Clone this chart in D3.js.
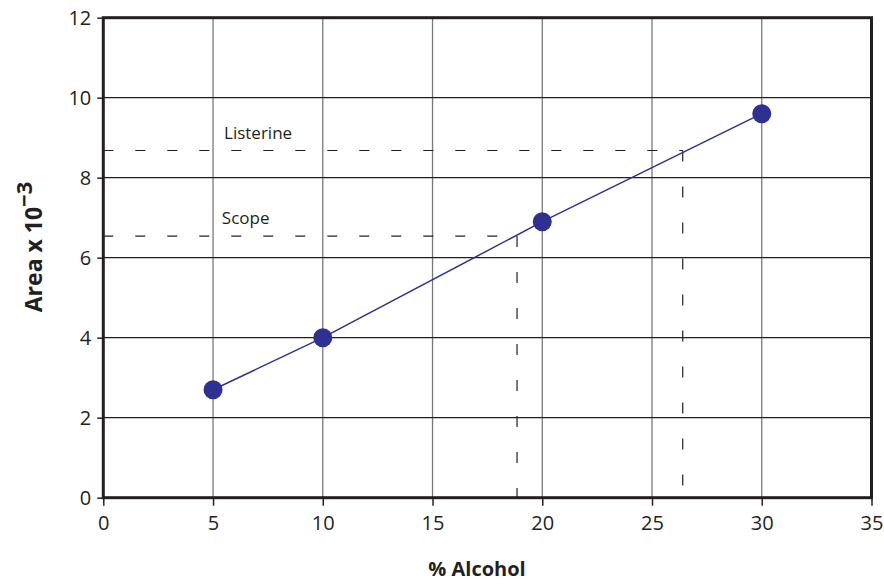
<!DOCTYPE html>
<html><head><meta charset="utf-8">
<script src="https://cdn.jsdelivr.net/npm/d3@7/dist/d3.min.js"></script>
<style>body{margin:0;background:#fff}svg{display:block}</style>
</head><body>
<svg id="c" width="884" height="584"></svg>
<script>
const alcohol = [5, 10, 20, 30];
const area = [2.7, 4.0, 6.9, 9.6];
const xTicks = [0, 5, 10, 15, 20, 25, 30, 35];
const yTicks = [0, 2, 4, 6, 8, 10, 12];
const sampleNames = ["Listerine", "Scope"];
const sampleArea = [8.68, 6.54];
const sampleAlcohol = [26.4, 18.85];

const svg = d3.select("#c");
const font = "'Open Sans', sans-serif";
const x = d3.scaleLinear().domain([0, 35]).range([103.3, 871.5]);
const y = d3.scaleLinear().domain([0, 12]).range([497.7, 17.7]);
const dark = "#231f20";

// vertical grid
svg.append("g").selectAll("line").data(xTicks.slice(1, -1)).join("line")
  .attr("x1", d => x(d)).attr("x2", d => x(d)).attr("y1", y(12)).attr("y2", y(0))
  .attr("stroke", "#7a7a7a").attr("stroke-width", 1.3);
// horizontal grid
svg.append("g").selectAll("line").data(yTicks.slice(1, -1)).join("line")
  .attr("x1", x(0)).attr("x2", x(35)).attr("y1", d => y(d)).attr("y2", d => y(d))
  .attr("stroke", dark).attr("stroke-width", 1.2);

// dashed sample lines
const dash = svg.append("g").attr("stroke", dark).attr("stroke-width", 1.2).attr("fill", "none");
sampleNames.forEach((n, i) => {
  dash.append("line").attr("x1", x(0)).attr("x2", x(sampleAlcohol[i]))
    .attr("y1", y(sampleArea[i])).attr("y2", y(sampleArea[i])).attr("stroke-dasharray", "10,22");
  dash.append("line").attr("x1", x(sampleAlcohol[i])).attr("x2", x(sampleAlcohol[i]))
    .attr("y1", y(sampleArea[i])).attr("y2", y(0)).attr("stroke-dasharray", "11,25");
});
svg.append("g").selectAll("text").data(sampleNames).join("text")
  .attr("x", (d, i) => x(i === 0 ? 5.5 : 5.4)).attr("y", (d, i) => y(sampleArea[i]) - 12)
  .attr("font-family", font).attr("font-size", 17).attr("fill", dark).text(d => d);

// frame
svg.append("rect").attr("x", x(0)).attr("y", y(12)).attr("width", x(35) - x(0)).attr("height", y(0) - y(12))
  .attr("fill", "none").attr("stroke", dark).attr("stroke-width", 3);

// axes
const xAxis = svg.append("g").attr("transform", `translate(0,${y(0)})`)
  .call(d3.axisBottom(x).tickValues(xTicks).tickSize(8).tickPadding(10));
const yAxis = svg.append("g").attr("transform", `translate(${x(0)},0)`)
  .call(d3.axisLeft(y).tickValues(yTicks).tickSize(6).tickPadding(6));
[xAxis, yAxis].forEach(a => {
  a.select(".domain").remove();
  a.selectAll(".tick line").attr("stroke", dark).attr("stroke-width", 1.5);
  a.selectAll(".tick text").attr("font-family", font).attr("font-size", 20).attr("fill", dark);
});

// data line and points
const pts = alcohol.map((a, i) => [a, area[i]]);
svg.append("path").datum(pts)
  .attr("d", d3.line().x(d => x(d[0])).y(d => y(d[1])))
  .attr("fill", "none").attr("stroke", "#2e3192").attr("stroke-width", 1.5);
svg.append("g").selectAll("circle").data(pts).join("circle")
  .attr("cx", d => x(d[0])).attr("cy", d => y(d[1])).attr("r", 9.5).attr("fill", "#2e3192");

// titles
svg.append("text").attr("x", 477).attr("y", 576).attr("text-anchor", "middle")
  .attr("font-family", font).attr("font-weight", "bold").attr("font-size", 20).attr("fill", dark).text("% Alcohol");
const yt = svg.append("text").attr("transform", "translate(42,247) rotate(-90)").attr("text-anchor", "middle")
  .attr("font-family", font).attr("font-weight", "bold").attr("font-size", 23).attr("fill", dark);
yt.append("tspan").text("Area x 10");
yt.append("tspan").attr("dy", -10).attr("font-size", 22).text("\u22123");
</script>
</body></html>
